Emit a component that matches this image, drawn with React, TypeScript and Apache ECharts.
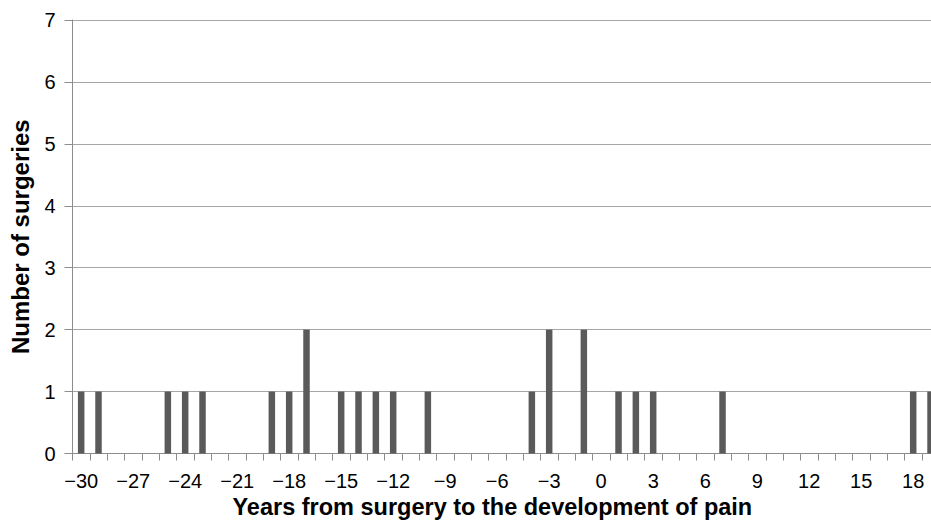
import React, { useEffect, useRef } from "react";
import * as echarts from "echarts";

const categories: string[] = [
  "−30", "−29", "−28", "−27", "−26", "−25", "−24", "−23", "−22", "−21",
  "−20", "−19", "−18", "−17", "−16", "−15", "−14", "−13", "−12", "−11",
  "−10", "−9", "−8", "−7", "−6", "−5", "−4", "−3", "−2", "−1",
  "0", "1", "2", "3", "4", "5", "6", "7", "8", "9",
  "10", "11", "12", "13", "14", "15", "16", "17", "18", "19",
];

const surgeries: number[] = [
  1, 1, 0, 0, 0, 1, 1, 1, 0, 0,
  0, 1, 1, 2, 0, 1, 1, 1, 1, 0,
  1, 0, 0, 0, 0, 0, 1, 2, 0, 2,
  0, 1, 1, 1, 0, 0, 0, 1, 0, 0,
  0, 0, 0, 0, 0, 0, 0, 0, 1, 1,
];

const yTicks = { min: 0, max: 7, interval: 1 };

const xTitle = "Years from surgery to the development of pain";
const yTitle = "Number of surgeries";

export default function App() {
  const ref = useRef<HTMLDivElement>(null);
  useEffect(() => {
    if (!ref.current) return;
    const chart = echarts.init(ref.current, undefined, { renderer: "svg" });
    const font = "'Liberation Sans', Arial, sans-serif";
    chart.setOption({
      animation: false,
      backgroundColor: "#ffffff",
      grid: {
        left: 72.5,
        top: 20,
        bottom: 67.5,
        right: -8.2,
        containLabel: false,
        outerBoundsMode: "none",
      },
      xAxis: {
        type: "category",
        data: categories,
        boundaryGap: true,
        name: xTitle,
        nameLocation: "middle",
        nameGap: 41,
        nameTextStyle: {
          fontFamily: font,
          fontSize: 23.5,
          fontWeight: "bold",
          color: "#000",
          padding: [0, 27, 0, 0],
        },
        axisLine: { show: true, lineStyle: { color: "#8c8c8c", width: 1 } },
        axisTick: { show: true, interval: 0, length: 7, lineStyle: { color: "#8c8c8c" } },
        axisLabel: {
          interval: 2,
          margin: 17,
          fontFamily: font,
          fontSize: 20,
          color: "#000",
        },
        splitLine: { show: false },
      },
      yAxis: {
        type: "value",
        min: yTicks.min,
        max: yTicks.max,
        interval: yTicks.interval,
        name: yTitle,
        nameLocation: "middle",
        nameGap: 40,
        nameTextStyle: { fontFamily: font, fontSize: 24, fontWeight: "bold", color: "#000" },
        axisLine: { show: true, lineStyle: { color: "#8c8c8c", width: 1 } },
        axisTick: { show: true, length: 8, lineStyle: { color: "#8c8c8c" } },
        axisLabel: { margin: 17, fontFamily: font, fontSize: 20, color: "#000" },
        splitLine: { show: true, lineStyle: { color: "#a6a6a6", width: 1 } },
      },
      series: [
        {
          type: "bar",
          data: surgeries,
          barWidth: 6.5,
          itemStyle: { color: "#5a5a5a" },
        },
      ],
    });
    return () => chart.dispose();
  }, []);
  return (
    <div
      ref={ref}
      style={{ position: "absolute", left: 0, top: 0, width: 931, height: 521, overflow: "hidden" }}
    />
  );
}
